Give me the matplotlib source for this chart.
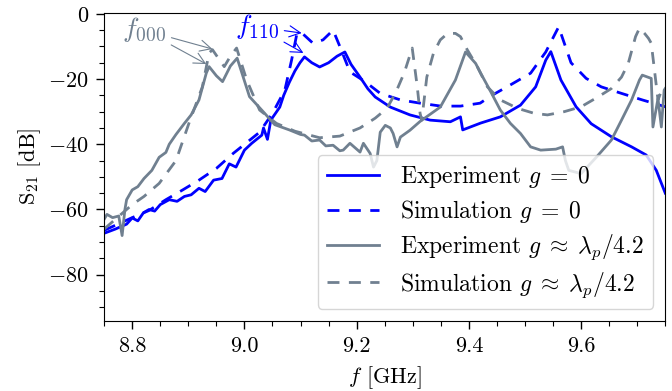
import matplotlib
matplotlib.use("Agg")
import matplotlib.pyplot as plt
import numpy as np

plt.rcParams['font.family'] = 'serif'
plt.rcParams['font.serif'] = ['cmr10']
plt.rcParams['mathtext.fontset'] = 'cm'
plt.rcParams['axes.formatter.use_mathtext'] = True
plt.rcParams['font.size'] = 16

# Experiment g = 0
f_exp0 = [8.75, 8.77, 8.79, 8.80, 8.81, 8.82, 8.83, 8.84, 8.85, 8.866, 8.88, 8.893, 8.905,
          8.919, 8.93, 8.945, 8.96, 8.973, 8.985, 9.000, 9.013, 9.031, 9.034, 9.041, 9.047,
          9.063, 9.07, 9.080, 9.09, 9.099, 9.107, 9.12, 9.134, 9.15, 9.165, 9.179, 9.19,
          9.206, 9.22, 9.233, 9.26, 9.295, 9.331, 9.367, 9.385, 9.389, 9.421, 9.456, 9.492,
          9.519, 9.537, 9.546, 9.564, 9.591, 9.618, 9.654, 9.69, 9.716, 9.734, 9.75]
s_exp0 = [-67.3, -66, -64.5, -62.6, -63.5, -61, -60, -60.5, -58.5, -57, -57.5, -56, -55.5,
          -53.5, -54.5, -51, -50.5, -46, -47, -41.8, -39.7, -37.2, -35, -38.5, -32.6,
          -28.6, -25, -21, -17.5, -15, -13.2, -15, -16.3, -15, -13, -11.7, -15.5,
          -19.4, -23, -25.5, -28.6, -31, -32.6, -33.1, -31.6, -35.6, -33.5, -31.6, -28,
          -22.4, -14.2, -11.6, -20.3, -28.5, -33.7, -37.7, -40.8, -43.3, -48, -55]

# Simulation g = 0
f_sim0 = [8.75, 8.80, 8.83, 8.86, 8.89, 8.919, 8.95, 8.98, 9.009, 9.027, 9.05, 9.072, 9.084,
          9.093, 9.10, 9.122, 9.14, 9.158, 9.17, 9.188, 9.215, 9.242, 9.278, 9.313, 9.35,
          9.385, 9.42, 9.439, 9.474, 9.51, 9.537, 9.560, 9.582, 9.609, 9.636, 9.672, 9.709, 9.75]
s_sim0 = [-66.4, -62.5, -60.3, -57, -54, -51, -47.4, -42.8, -38.8, -36.3, -30.5, -23.4, -14.2,
          -6.5, -5.5, -9, -8, -5, -10, -17.8, -20.8, -24.4, -26.4, -27.4, -28.3,
          -28.3, -27.4, -25.2, -21.8, -18.2, -11.7, -4, -15, -19.8, -22.4, -24.4, -26.4, -28.5]

# Experiment g ~ lambda_p/4.2
f_exp1 = [8.75, 8.755, 8.765, 8.776, 8.782, 8.787, 8.79, 8.80, 8.81, 8.821, 8.835, 8.848,
          8.86, 8.866, 8.878, 8.893, 8.905, 8.919, 8.932, 8.937, 8.95, 8.961, 8.975, 8.987,
          9.009, 9.036, 9.054, 9.08, 9.10, 9.107, 9.12, 9.134, 9.145, 9.158, 9.17, 9.176,
          9.188, 9.20, 9.206, 9.212, 9.224, 9.23, 9.236, 9.242, 9.251, 9.26, 9.265, 9.272,
          9.278, 9.295, 9.313, 9.349, 9.376, 9.394, 9.412, 9.421, 9.439, 9.456, 9.474, 9.492,
          9.51, 9.528, 9.555, 9.567, 9.572, 9.578, 9.60, 9.627, 9.654, 9.672, 9.69, 9.704,
          9.709, 9.725, 9.728, 9.737, 9.743, 9.748, 9.75]
s_exp1 = [-63, -61.5, -62.5, -62, -68, -60, -57, -54, -53, -50.5, -48, -44,
          -42.5, -40, -37, -33.6, -31, -26.4, -18.2, -16.2, -19, -20.8, -16, -13.6,
          -25.4, -30.5, -34, -35.6, -37, -37.2, -39, -38.7, -40.5, -40.3, -42, -41.8,
          -39.7, -41.5, -42.4, -39.7, -42.8, -47, -45, -36.3, -34.2, -35, -36.7, -40.8,
          -37.8, -35.7, -33, -28.6, -20.3, -11.7, -15.2, -18.2, -23.9, -29.5, -33.6, -36.7,
          -40.8, -41.8, -41.5, -40.8, -45, -48, -49, -44, -38.7, -32.6, -26.4, -20.3,
          -18.8, -19.8, -34.7, -26, -34.7, -23.4, -22.9]

# Simulation g ~ lambda_p/4.2
f_sim1 = [8.75, 8.80, 8.821, 8.848, 8.878, 8.901, 8.925, 8.937, 8.943, 8.955, 8.964, 8.975,
          8.986, 9.004, 9.027, 9.057, 9.09, 9.134, 9.17, 9.206, 9.233, 9.254, 9.27, 9.285,
          9.299, 9.308, 9.313, 9.316, 9.325, 9.337, 9.349, 9.362, 9.376, 9.385, 9.397, 9.415,
          9.433, 9.456, 9.487, 9.516, 9.540, 9.57, 9.60, 9.630, 9.654, 9.672, 9.684, 9.697,
          9.704, 9.713, 9.72, 9.725, 9.73, 9.737, 9.746, 9.75]
s_sim1 = [-66, -58.5, -56, -52, -45, -33.6, -22.4, -12, -11, -14, -16.2, -13,
          -10.5, -20.3, -29.5, -33.6, -36, -38, -37.5, -35, -32, -29, -24, -18,
          -10.5, -22.4, -30.5, -32.6, -19.4, -12, -8, -6, -6, -7, -11, -16.2,
          -22.4, -26.4, -29, -30.5, -31, -30, -28.5, -25.5, -22.9, -19.4, -15.2, -7,
          -4.4, -6, -7.5, -9, -16.2, -26.4, -22.4, -22.8]

blue = '#0000ff'
gray = '#708090'
dash = (4.3, 3.4)

fig = plt.figure(figsize=(6.72, 3.91), dpi=100)
ax = fig.add_axes([0.155, 0.179, 0.835, 0.789])

ax.plot(f_exp0, s_exp0, color=blue, lw=2, label=r'Experiment $g\;=\;0$')
ax.plot(f_sim0, s_sim0, color=blue, lw=2, dashes=dash, label=r'Simulation $g\;=\;0$')
ax.plot(f_exp1, s_exp1, color=gray, lw=2, label=r'Experiment $g\;\approx\;\lambda_p/4.2$')
ax.plot(f_sim1, s_sim1, color=gray, lw=2, dashes=dash, label=r'Simulation $g\;\approx\;\lambda_p/4.2$')

# peak annotations
arr_g = dict(arrowstyle='->', color=gray, lw=0.8, shrinkA=2, shrinkB=0)
arr_b = dict(arrowstyle='->', color=blue, lw=0.8, shrinkA=2, shrinkB=0)
ax.annotate('$f_{000}$', xy=(8.943, -10.8), xytext=(8.821, -5), color=gray, fontsize=20,
            ha='center', va='center', arrowprops=arr_g)
ax.annotate('$f_{000}$', xy=(8.932, -15.4), xytext=(8.821, -5), color=gray, fontsize=20,
            ha='center', va='center', alpha=0, arrowprops=arr_g)
ax.annotate('$f_{110}$', xy=(9.102, -5.9), xytext=(9.022, -4), color=blue, fontsize=20,
            ha='center', va='center', arrowprops=arr_b)
ax.annotate('$f_{110}$', xy=(9.105, -12), xytext=(9.022, -4), color=blue, fontsize=20,
            ha='center', va='center', alpha=0, arrowprops=arr_b)

ax.set_xlim(8.75, 9.75)
ax.set_ylim(-94.2, 0.4)
ax.set_xticks([8.8, 9.0, 9.2, 9.4, 9.6])
ax.set_xticklabels(['8.8', '9.0', '9.2', '9.4', '9.6'])
ax.set_yticks([0, -20, -40, -60, -80])
ax.xaxis.set_minor_locator(matplotlib.ticker.MultipleLocator(0.05))
ax.yaxis.set_minor_locator(matplotlib.ticker.MultipleLocator(5))
ax.tick_params(which='major', length=6, width=1, pad=5)
ax.tick_params(which='minor', length=3.5, width=0.8)
ax.set_xlabel('$f$ [GHz]', labelpad=6)
ax.set_ylabel('S$_{21}$ [dB]')
ax.legend(loc='lower right', fontsize=17, handlelength=2.2, handletextpad=0.9,
          labelspacing=0.33)

fig.savefig('out.png', dpi=100)
